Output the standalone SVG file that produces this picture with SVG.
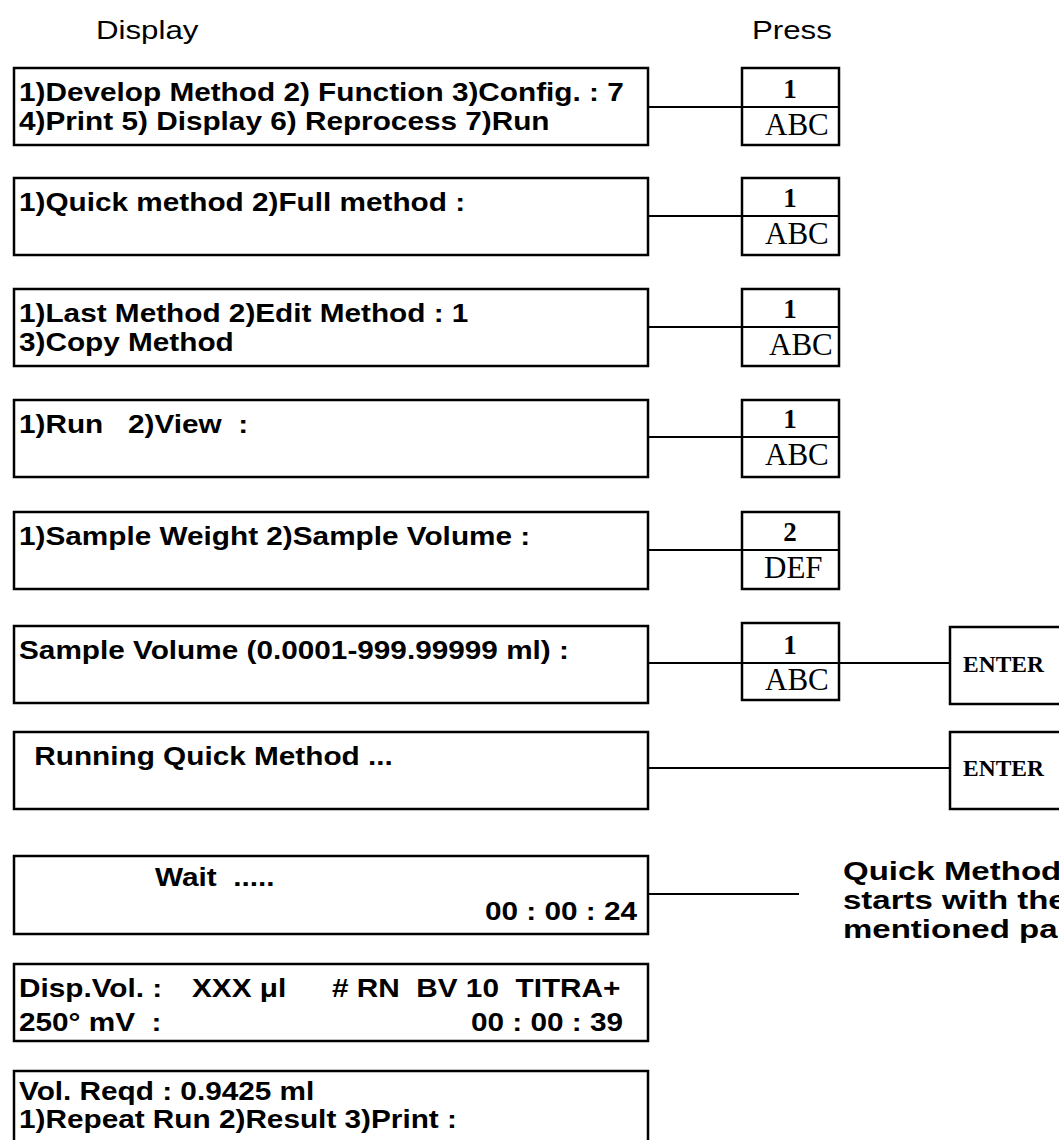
<svg xmlns="http://www.w3.org/2000/svg" width="1059" height="1140" viewBox="0 0 1059 1140">
<style>
.bx{fill:#fff;stroke:#000;stroke-width:2.5}
.ln{stroke:#000;stroke-width:2;fill:none}
.t{font-family:"Liberation Sans",Arial,sans-serif;font-weight:bold;font-size:25px;fill:#000;white-space:pre}
.n{font-family:"Liberation Sans",Arial,sans-serif;font-weight:bold;font-size:26px;fill:#000}
.h{font-family:"Liberation Sans",Arial,sans-serif;font-size:25px;fill:#000}
.k1{font-family:"Liberation Serif","Times New Roman",serif;font-weight:bold;font-size:27px;fill:#000;text-anchor:middle}
.k2{font-family:"Liberation Serif","Times New Roman",serif;font-size:31px;fill:#000}
.en{font-family:"Liberation Serif","Times New Roman",serif;font-weight:bold;font-size:23.5px;fill:#000}
.r{text-anchor:end}
</style>
<rect width="1059" height="1140" fill="#fff"/>
<text class="h" transform="matrix(1.25 0 0 1 96 39)">Display</text>
<text class="h" transform="matrix(1.25 0 0 1 752 39)">Press</text>
<g id="connectors">
<line class="ln" x1="648" y1="107" x2="742" y2="107"/>
<line class="ln" x1="648" y1="216" x2="742" y2="216"/>
<line class="ln" x1="648" y1="327" x2="742" y2="327"/>
<line class="ln" x1="648" y1="437" x2="742" y2="437"/>
<line class="ln" x1="648" y1="550" x2="742" y2="550"/>
<line class="ln" x1="648" y1="663" x2="742" y2="663"/>
<line class="ln" x1="839" y1="663" x2="950" y2="663"/>
<line class="ln" x1="648" y1="768" x2="950" y2="768"/>
<line class="ln" x1="648" y1="894" x2="799" y2="894"/>
</g>
<g id="d1"><rect class="bx" x="14" y="68" width="634" height="77"/>
<text class="t" transform="matrix(1.19 0 0 1 19 101)">1)Develop Method 2) Function 3)Config. : 7</text>
<text class="t" transform="matrix(1.19 0 0 1 19 130)">4)Print 5) Display 6) Reprocess 7)Run</text></g>
<g id="k1"><rect class="bx" x="742" y="68" width="97" height="77"/><line class="ln" x1="742" y1="107" x2="839" y2="107"/>
<text class="k1" x="790" y="98">1</text><text class="k2" x="765" y="135">ABC</text></g>
<g id="d2"><rect class="bx" x="14" y="178" width="634" height="77"/>
<text class="t" transform="matrix(1.19 0 0 1 19 211)">1)Quick method 2)Full method :</text></g>
<g id="k2"><rect class="bx" x="742" y="178" width="97" height="77"/><line class="ln" x1="742" y1="216" x2="839" y2="216"/>
<text class="k1" x="790" y="207">1</text><text class="k2" x="765" y="244">ABC</text></g>
<g id="d3"><rect class="bx" x="14" y="289" width="634" height="77"/>
<text class="t" transform="matrix(1.19 0 0 1 19 322)">1)Last Method 2)Edit Method : 1</text>
<text class="t" transform="matrix(1.19 0 0 1 19 351)">3)Copy Method</text></g>
<g id="k3"><rect class="bx" x="742" y="289" width="97" height="77"/><line class="ln" x1="742" y1="327" x2="839" y2="327"/>
<text class="k1" x="790" y="318">1</text><text class="k2" x="769" y="355">ABC</text></g>
<g id="d4"><rect class="bx" x="14" y="400" width="634" height="77"/>
<text class="t" transform="matrix(1.19 0 0 1 19 433)">1)Run   2)View  :</text></g>
<g id="k4"><rect class="bx" x="742" y="400" width="97" height="77"/><line class="ln" x1="742" y1="437" x2="839" y2="437"/>
<text class="k1" x="790" y="428">1</text><text class="k2" x="765" y="465">ABC</text></g>
<g id="d5"><rect class="bx" x="14" y="512" width="634" height="77"/>
<text class="t" transform="matrix(1.19 0 0 1 19 545)">1)Sample Weight 2)Sample Volume :</text></g>
<g id="k5"><rect class="bx" x="742" y="512" width="97" height="77"/><line class="ln" x1="742" y1="550" x2="839" y2="550"/>
<text class="k1" x="790" y="541">2</text><text class="k2" x="764" y="578">DEF</text></g>
<g id="d6"><rect class="bx" x="14" y="626" width="634" height="77"/>
<text class="t" transform="matrix(1.19 0 0 1 19 659)">Sample Volume (0.0001-999.99999 ml) :</text></g>
<g id="k6"><rect class="bx" x="742" y="623" width="97" height="77"/><line class="ln" x1="742" y1="663" x2="839" y2="663"/>
<text class="k1" x="790" y="654">1</text><text class="k2" x="765" y="690">ABC</text></g>
<g id="e1"><rect class="bx" x="950" y="627" width="150" height="77"/>
<text class="en" x="963" y="672">ENTER</text></g>
<g id="d7"><rect class="bx" x="14" y="732" width="634" height="77"/>
<text class="t" transform="matrix(1.19 0 0 1 26 765)"> Running Quick Method ...</text></g>
<g id="e2"><rect class="bx" x="950" y="732" width="150" height="77"/>
<text class="en" x="963" y="776">ENTER</text></g>
<g id="d8"><rect class="bx" x="14" y="856" width="634" height="78"/>
<text class="t" transform="matrix(1.19 0 0 1 155 886)">Wait  .....</text>
<text class="t r" transform="matrix(1.19 0 0 1 637 920)">00 : 00 : 24</text></g>
<g id="note"><text class="n" transform="matrix(1.27 0 0 1 843 880)">Quick Method</text>
<text class="n" transform="matrix(1.27 0 0 1 843 909)">starts with the</text>
<text class="n" transform="matrix(1.27 0 0 1 843 938)">mentioned pa</text></g>
<g id="d9"><rect class="bx" x="14" y="964" width="634" height="77"/>
<text class="t" transform="matrix(1.19 0 0 1 19 997)">Disp.Vol. :</text>
<text class="t" transform="matrix(1.19 0 0 1 192 997)">XXX μl</text>
<text class="t" transform="matrix(1.19 0 0 1 332 997)"># RN  BV 10  TITRA+</text>
<text class="t" transform="matrix(1.19 0 0 1 19 1031)">250° mV  :</text>
<text class="t r" transform="matrix(1.19 0 0 1 623 1031)">00 : 00 : 39</text></g>
<g id="d10"><rect class="bx" x="14" y="1071" width="634" height="90"/>
<text class="t" transform="matrix(1.19 0 0 1 19 1100)">Vol. Reqd : 0.9425 ml</text>
<text class="t" transform="matrix(1.19 0 0 1 19 1128)">1)Repeat Run 2)Result 3)Print :</text></g>
</svg>
